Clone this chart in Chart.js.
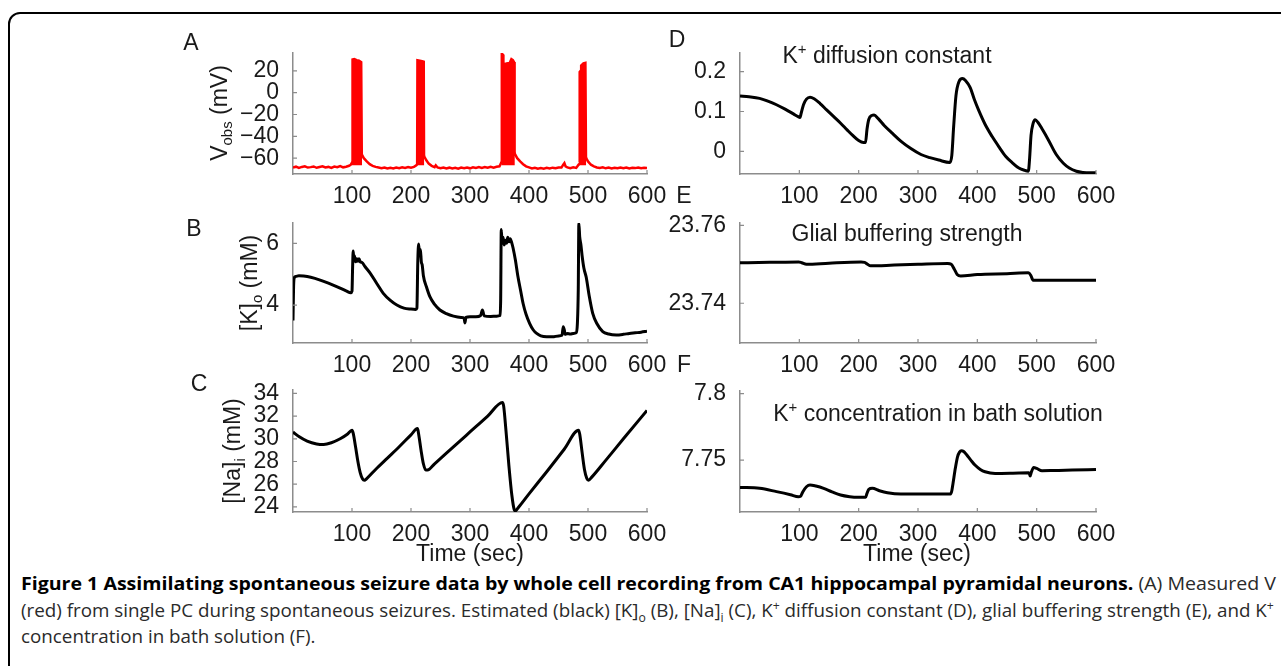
<!DOCTYPE html>
<html>
<head>
<meta charset="utf-8">
<script src="https://cdn.jsdelivr.net/npm/chart.js@4.4.0/dist/chart.umd.min.js"></script>
<style>
  body { margin: 0; background: #fff; width: 1281px; height: 666px; overflow: hidden; position: relative;
         font-family: "Liberation Sans", Arial, sans-serif; color: #1a1a1a; }
  .frame { position: absolute; left: 8px; top: 12px; width: 1300px; height: 700px; border: 2px solid #000; border-radius: 12px; }
  canvas { position: absolute; }
  .lbl { position: absolute; font-size: 23px; line-height: 1; white-space: nowrap; transform: translate(-50%, -50%); }
  .rot { position: absolute; width: 0; height: 0; }
  .rot span { position: absolute; left: 0; top: 0; font-size: 23px; line-height: 1; white-space: nowrap;
              transform: translate(-50%, -50%) rotate(-90deg); }
  sub, sup { font-size: 65%; line-height: 0; }
  .cap { position: absolute; left: 21px; font-family: "Open Sans", sans-serif; font-size: 18px; line-height: 24px;
         white-space: nowrap; transform-origin: 0 50%; color: #2a2a2a; }
  .cap b { color: #000; }
</style>
</head>
<body>
<div class="frame"></div>

<canvas id="chartA"></canvas>
<canvas id="chartB"></canvas>
<canvas id="chartC"></canvas>
<canvas id="chartD"></canvas>
<canvas id="chartE"></canvas>
<canvas id="chartF"></canvas>

<!-- panel letters -->
<div class="lbl" style="left:191px; top:42px">A</div>
<div class="lbl" style="left:194px; top:228px">B</div>
<div class="lbl" style="left:199px; top:383px">C</div>
<div class="lbl" style="left:677px; top:39px">D</div>
<div class="lbl" style="left:684px; top:195px">E</div>
<div class="lbl" style="left:684px; top:364px">F</div>

<!-- y axis titles -->
<div class="rot" style="left:219px; top:113px"><span>V<sub>obs</sub> (mV)</span></div>
<div class="rot" style="left:249px; top:283px"><span>[K]<sub>o</sub> (mM)</span></div>
<div class="rot" style="left:232px; top:451px"><span>[Na]<sub>i</sub> (mM)</span></div>

<!-- titles inside right panels -->
<div class="lbl" style="left:887px; top:55px">K<sup>+</sup> diffusion constant</div>
<div class="lbl" style="left:907px; top:233px">Glial buffering strength</div>
<div class="lbl" style="left:938px; top:413px">K<sup>+</sup> concentration in bath solution</div>

<div class="lbl" style="left:470px; top:553px">Time (sec)</div>
<div class="lbl" style="left:917px; top:553px">Time (sec)</div>

<div class="cap" id="cap1" style="top:571px"><b>Figure 1 Assimilating spontaneous seizure data by whole cell recording from CA1 hippocampal pyramidal neurons.</b> (A) Measured V</div>
<div class="cap" id="cap2" style="top:598px">(red) from single PC during spontaneous seizures. Estimated (black) [K]<sub>o</sub> (B), [Na]<sub>i</sub> (C), K<sup>+</sup> diffusion constant (D), glial buffering strength (E), and K<sup>+</sup></div>
<div class="cap" id="cap3" style="top:624px">concentration in bath solution (F).</div>

<script>
// time axis (sec)
const xTicks = [100, 200, 300, 400, 500, 600];

// A: measured membrane voltage (mV), [time, value]
const vObs = [
  [0,-68.5],[5,-67.8],[10,-68.9],[15,-68.0],[20,-67.5],[25,-68.6],[30,-68.2],[35,-67.6],[40,-68.8],[45,-68.1],
  [50,-67.4],[55,-68.5],[60,-68.0],[65,-68.9],[70,-67.7],[75,-68.3],[80,-67.2],[85,-68.4],[90,-67.9],[95,-67.0],
  [98,-66.0],[100,-64],[117,-57],[120,-60],[125,-63],[130,-65.5],[135,-67],[140,-68],[145,-68.6],[150,-69.2],
  [155,-68.5],[160,-69.4],[165,-68.8],[170,-69.5],[175,-68.6],[180,-69.2],[185,-68.4],[190,-69.0],[195,-68.2],
  [200,-68.8],[205,-68.0],[209,-66.5],[222,-58],[226,-62],[230,-65],[235,-67],[240,-68.2],[242,-66.5],[245,-68.5],
  [250,-69.3],[255,-68.6],[260,-69.4],[265,-68.7],[270,-69.5],[275,-68.9],[280,-69.6],[285,-68.6],[290,-69.2],
  [295,-68.5],[300,-69.3],[305,-68.4],[310,-69.0],[315,-68.2],[320,-68.9],[325,-68.1],[330,-68.8],[335,-68.0],
  [340,-68.7],[345,-67.9],[350,-67.5],[353,-64],[376,-56],[380,-60],[385,-63],[390,-65.5],[395,-67.5],[400,-68.5],
  [405,-69.5],[410,-68.8],[415,-69.6],[420,-69.0],[425,-69.7],[430,-68.9],[435,-69.5],[440,-68.7],[445,-69.3],
  [450,-68.5],[455,-68.6],[458,-66],[460,-64.5],[462,-67.5],[465,-68.5],[470,-69.2],[475,-68.4],[480,-68.9],
  [484,-66],[497,-60],[500,-63],[505,-66],[510,-67.5],[515,-68.5],[520,-69],[525,-68.4],[530,-69.3],[535,-68.6],
  [540,-69.4],[545,-68.7],[550,-69.2],[555,-68.5],[560,-69.3],[565,-68.6],[570,-69.4],[575,-68.8],[580,-69.1],
  [585,-68.5],[590,-69.2],[595,-68.7],[600,-69.0]
];
// envelopes of the four spike bursts
const burst1 = [[100,-64],[100.5,30.5],[104,31],[108,30],[112,29.5],[116,28],[117,-57]];
const burst2 = [[210,-66],[210.5,30],[215,29.5],[219,29],[222,28.5],[222.5,-58]];
const burst3 = [[353,-64],[353.5,36],[356,35],[357,26],[362,27],[367,27.5],[370,31],[373,30],[375,28],[376,-56]];
const burst4 = [[485,-64],[485.5,19],[487,20],[488,25],[492,27],[496,27.5],[497,-60]];
const yTicksA = [-60, -40, -20, 0, 20];
const yLabelsA = ['\u221260', '\u221240', '\u221220', '0', '20'];

// B: [K]o (mM)
const kOut = [
  [0,3.5],[1,4.6],[2,4.88],[5,4.93],[10,4.95],[18,4.94],[30,4.9],[46,4.81],[60,4.71],[75,4.59],[90,4.46],[98,4.4],
  [100,4.45],[101,5.2],[102,5.75],[103,5.5],[104,5.6],[106,5.4],[108,5.5],[110,5.42],[112,5.5],[114,5.4],[117,5.38],
  [122,5.25],[131,5.03],[142,4.7],[153,4.38],[165,4.15],[176,4.0],[188,3.9],[200,3.87],[208,3.86],[210,3.9],
  [211.5,5.4],[213,5.98],[214.5,5.6],[216,5.8],[217.5,5.4],[219,5.3],[221,4.95],[226,4.6],[232,4.27],[240,4.02],
  [249,3.84],[260,3.72],[272,3.64],[285,3.6],[290,3.58],[291.5,3.42],[293,3.6],[300,3.62],[310,3.62],[318,3.66],
  [321,3.84],[324,3.65],[335,3.63],[345,3.64],[351,3.66],[352,4.2],[353,6.45],[354.5,6.0],[356,6.2],[358,5.95],
  [360,6.1],[362,6.0],[364,6.2],[366,6.05],[368,6.15],[371,6.0],[373,5.85],[377,5.45],[381,4.95],[386,4.45],
  [390,4.05],[395,3.7],[401,3.41],[407,3.2],[413,3.08],[420,3.0],[430,2.97],[440,2.97],[450,3.0],[456,3.02],
  [458,3.3],[460,3.18],[461,3.05],[465,3.08],[470,3.06],[475,3.08],[480,3.1],[482,3.4],[483.5,4.5],[484.5,6.65],
  [486,6.2],[488,5.95],[490,5.6],[493,5.2],[497,4.9],[502,4.3],[508,3.73],[515,3.4],[525,3.14],[535,3.06],
  [548,3.03],[560,3.05],[570,3.08],[580,3.1],[590,3.12],[600,3.15]
];
const yTicksB = [4, 6];
const yLabelsB = ['4', '6'];

// C: [Na]i (mM)
const naIn = [
  [0,30.6],[10,30.2],[24,29.8],[40,29.55],[52,29.5],[65,29.65],[80,30.0],[92,30.4],[100,30.75],[102,30.5],
  [106,29.3],[110,28.0],[114,27.0],[118,26.45],[121,26.35],[125,26.5],[140,27.3],[160,28.3],[180,29.3],[200,30.35],
  [211,30.9],[213,30.4],[217,29.0],[221,27.8],[225,27.25],[228,27.25],[240,27.8],[270,29.2],[300,30.6],[330,32.0],
  [355,33.2],[357,32.9],[361,30.7],[366,27.6],[371,25.0],[375,23.75],[377,23.65],[382,23.95],[400,25.15],[430,27.1],
  [460,29.1],[484,30.75],[486,30.4],[490,28.8],[494,27.3],[498,26.5],[501,26.35],[506,26.6],[530,28.1],[560,30.0],
  [600,32.5]
];
const yTicksC = [24, 26, 28, 30, 32, 34];
const yLabelsC = ['24', '26', '28', '30', '32', '34'];

// D: K+ diffusion constant
const kDiff = [
  [0,0.139],[15,0.137],[33,0.133],[47,0.126],[61.5,0.117],[76,0.106],[90,0.094],[98,0.087],[101,0.085],[103,0.095],
  [107,0.117],[112,0.131],[118,0.136],[125,0.132],[135,0.12],[146,0.104],[158,0.087],[170,0.07],[180.5,0.054],
  [190,0.04],[200,0.027],[208,0.022],[211.5,0.022],[214,0.055],[217,0.08],[222,0.09],[226,0.091],[233,0.082],
  [243,0.065],[257,0.045],[271.5,0.025],[288,0.007],[305,-0.008],[320,-0.016],[335,-0.022],[353.5,-0.028],
  [357,-0.01],[360,0.06],[364,0.14],[369,0.175],[375,0.183],[380,0.178],[388,0.16],[395,0.13],[402,0.104],
  [413,0.068],[425,0.037],[437,0.01],[448,-0.013],[460,-0.03],[470,-0.042],[480,-0.048],[486,-0.05],[488,-0.02],
  [490.5,0.04],[494,0.07],[497.5,0.079],[502,0.073],[510,0.054],[520,0.028],[533,-0.008],[545,-0.03],[555,-0.042],
  [567,-0.05],[578,-0.053],[590,-0.054],[600,-0.054]
];
const yTicksD = [0, 0.1, 0.2];
const yLabelsD = ['0', '0.1', '0.2'];

// E: glial buffering strength
const glial = [
  [0,23.7504],[50,23.7505],[99,23.7506],[104,23.7504],[112,23.7500],[150,23.7503],[204,23.7506],[210,23.7505],
  [215,23.7500],[220,23.7496],[260,23.7498],[300,23.7500],[350,23.7502],[356,23.7500],[361,23.7488],[366,23.7474],
  [372,23.7470],[400,23.7474],[450,23.7476],[486,23.7478],[490,23.7472],[494,23.7459],[520,23.7459],[600,23.7459]
];
const yTicksE = [23.74, 23.76];
const yLabelsE = ['23.74', '23.76'];

// F: K+ concentration in bath solution
const kBath = [
  [0,7.7295],[33,7.7288],[61.5,7.7263],[85,7.7240],[98.5,7.7225],[102,7.7228],[106,7.7263],[112,7.7300],[118,7.7313],
  [128,7.7305],[141,7.7288],[155,7.7262],[169.5,7.7238],[185,7.7225],[197.8,7.7220],[211.6,7.7220],[214,7.7250],
  [217,7.7280],[223,7.7288],[235,7.7270],[248.5,7.7255],[271,7.7245],[300,7.7245],[355,7.7245],[357,7.7270],
  [359,7.7325],[363,7.7440],[366.6,7.7525],[370,7.7560],[373,7.7570],[377,7.7565],[382,7.7540],[389,7.7500],
  [396,7.7463],[405,7.7430],[413,7.7413],[430,7.7400],[460,7.7402],[486.6,7.7405],[488,7.7395],[489,7.7380],
  [491,7.7410],[495,7.7445],[500,7.7438],[509,7.7420],[530,7.7422],[560,7.7425],[600,7.7430]
];
const yTicksF = [7.75, 7.8];
const yLabelsF = ['7.75', '7.8'];

const tickFont = { family: '"Liberation Sans", Arial, sans-serif', size: 23 };
const axisGray = '#8c8c8c';

// short inward tick marks like the original
const innerTicks = {
  id: 'innerTicks',
  afterDraw(chart) {
    const { ctx, chartArea: a, scales: { x, y } } = chart;
    ctx.save();
    ctx.strokeStyle = axisGray;
    ctx.lineWidth = 1.2;
    ctx.beginPath();
    x.ticks.forEach(t => { const p = x.getPixelForValue(t.value); ctx.moveTo(p, a.bottom); ctx.lineTo(p, a.bottom - 4); });
    y.ticks.forEach(t => { const p = y.getPixelForValue(t.value); ctx.moveTo(a.left, p); ctx.lineTo(a.left + 4, p); });
    ctx.stroke();
    ctx.restore();
  }
};

function blackLine(data) {
  return { data: data, borderColor: '#000', borderWidth: 3, fill: false, cubicInterpolationMode: 'monotone' };
}

function makeChart(id, cv, area, yMin, yMax, yTicks, yLabels, datasets) {
  const el = document.getElementById(id);
  el.width = cv.w; el.height = cv.h;
  el.style.left = cv.x + 'px'; el.style.top = cv.y + 'px';
  return new Chart(el, {
    type: 'line',
    data: { datasets: datasets },
    options: {
      responsive: false,
      animation: false,
      devicePixelRatio: 1,
      layout: { padding: { left: 0, bottom: 0, top: area.t - cv.y, right: cv.x + cv.w - area.r } },
      plugins: { legend: { display: false }, tooltip: { enabled: false } },
      elements: { point: { radius: 0 } },
      scales: {
        x: {
          type: 'linear', min: 0, max: 600,
          afterBuildTicks: s => { s.ticks = xTicks.map(v => ({ value: v })); },
          afterFit: s => { s.height = cv.y + cv.h - area.b; s.paddingLeft = 0; s.paddingRight = 0; },
          grid: { display: false },
          border: { color: axisGray, width: 1.5 },
          ticks: { padding: 1, maxRotation: 0, autoSkip: false, color: '#1a1a1a', font: tickFont,
                   callback: v => String(v) }
        },
        y: {
          type: 'linear', min: yMin, max: yMax,
          afterBuildTicks: s => { s.ticks = yTicks.map(v => ({ value: v })); },
          afterFit: s => { s.width = area.l - cv.x; s.paddingTop = 0; s.paddingBottom = 0; },
          grid: { display: false },
          border: { color: axisGray, width: 1.5 },
          ticks: { padding: 6, autoSkip: false, color: '#1a1a1a', font: tickFont,
                   callback: (v, i) => yLabels[i] }
        }
      }
    },
    plugins: [innerTicks]
  });
}

const red = '#ff0000';
function burstSet(data) {
  return { data: data, borderColor: red, backgroundColor: red, borderWidth: 2, fill: { value: -66.5 }, tension: 0 };
}

makeChart('chartA', { x: 160, y: 30, w: 510, h: 185 }, { l: 293, r: 647, t: 53, b: 174 }, -74.5, 36.3, yTicksA, yLabelsA, [
  { data: vObs, borderColor: red, borderWidth: 2.5, fill: false, tension: 0 },
  burstSet(burst1), burstSet(burst2), burstSet(burst3), burstSet(burst4)
]);
makeChart('chartB', { x: 160, y: 205, w: 510, h: 180 }, { l: 293, r: 647, t: 223, b: 343 }, 2.77, 6.66, yTicksB, yLabelsB,
  [blackLine(kOut)]);
makeChart('chartC', { x: 160, y: 375, w: 510, h: 170 }, { l: 293, r: 647, t: 390, b: 512 }, 23.55, 34.3, yTicksC, yLabelsC,
  [blackLine(naIn)]);
makeChart('chartD', { x: 660, y: 30, w: 462, h: 185 }, { l: 740, r: 1096, t: 53, b: 174 }, -0.057, 0.247, yTicksD, yLabelsD,
  [blackLine(kDiff)]);
makeChart('chartE', { x: 660, y: 205, w: 462, h: 180 }, { l: 740, r: 1096, t: 223, b: 343 }, 23.7298, 23.7606, yTicksE, yLabelsE,
  [blackLine(glial)]);
makeChart('chartF', { x: 660, y: 375, w: 462, h: 170 }, { l: 740, r: 1096, t: 391, b: 512 }, 7.711, 7.802, yTicksF, yLabelsF,
  [blackLine(kBath)]);

// stretch caption lines to the original line widths
function fitLine(id, target) {
  const el = document.getElementById(id);
  const k = target / el.offsetWidth;
  el.style.transform = 'scaleX(' + k + ')';
  return k;
}
fitLine('cap1', 1255);
const k2 = fitLine('cap2', 1253);
document.getElementById('cap3').style.transform = 'scaleX(' + k2 + ')';
</script>
</body>
</html>
